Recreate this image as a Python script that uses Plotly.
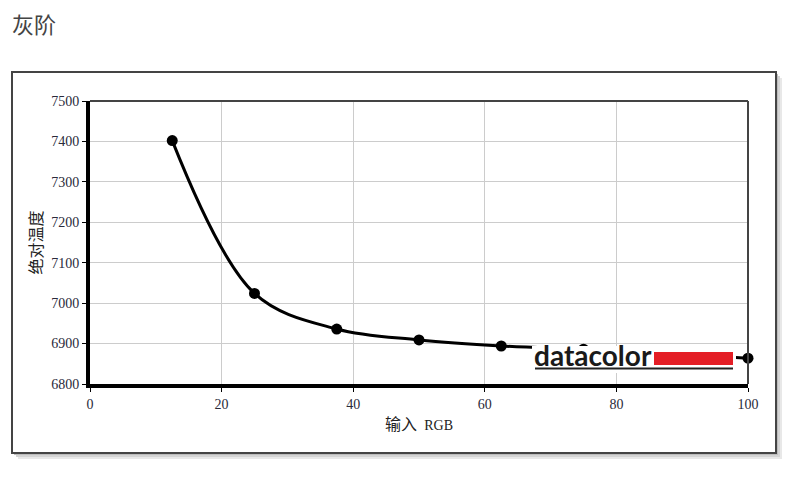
import plotly.graph_objects as go

# Data
rgb_input = [12.5, 25, 37.5, 50, 62.5, 75, 87.5, 100]
cct_values = [7402, 7024, 6936, 6909, 6894, 6886, 6876, 6864]
x_ticks = [0, 20, 40, 60, 80, 100]
y_ticks = [6800, 6900, 7000, 7100, 7200, 7300, 7400, 7500]

title_text = "灰阶"
x_title = "输入&nbsp;&nbsp;<span style='font-family:Liberation Serif;font-size:14px'>RGB</span>"
y_title = "绝对温度"

# plot area in page pixels (page has an 8px body margin)
OFF = 8
L, R, T, B = 90, 748, 101, 384
W, H = 800 - OFF, 477 - OFF

def px(x):
    return (x - L) / (R - L)

def py(y):
    return (B - y) / (B - T)

fig = go.Figure()
fig.add_trace(go.Scatter(
    x=rgb_input, y=cct_values, mode="lines+markers",
    line=dict(color="black", width=3, shape="spline", smoothing=1.0),
    marker=dict(color="black", size=11),
    cliponaxis=False, showlegend=False,
))

shapes = []
# shadow of outer box
for i, c in enumerate(["#e8e8e8", "#d4d4d4", "#bcbcbc"]):
    off = 6 - i * 2
    shapes.append(dict(type="rect", xref="paper", yref="paper",
                       x0=px(12 + off), x1=px(776 + off), y0=py(453 + off), y1=py(72 + off),
                       line=dict(width=0), fillcolor=c, layer="below"))
# outer box
shapes.append(dict(type="rect", xref="paper", yref="paper",
                   x0=px(12), x1=px(776), y0=py(453), y1=py(72),
                   line=dict(color="#444", width=2), fillcolor="white", layer="below"))
# top and right plot borders
shapes.append(dict(type="line", xref="paper", yref="paper", x0=0, x1=1, y0=1, y1=1,
                   line=dict(color="#444", width=2), layer="above"))
shapes.append(dict(type="line", xref="paper", yref="paper", x0=1, x1=1, y0=0, y1=1,
                   line=dict(color="#444", width=2), layer="above"))
# logo background
shapes.append(dict(type="rect", xref="paper", yref="paper",
                   x0=px(532), x1=px(736), y0=py(373), y1=py(346),
                   line=dict(width=0), fillcolor="white", layer="above"))
# logo red bar
shapes.append(dict(type="rect", xref="paper", yref="paper",
                   x0=px(654), x1=px(733), y0=py(365), y1=py(352),
                   line=dict(width=0), fillcolor="#e41e26", layer="above"))
# logo underline
shapes.append(dict(type="line", xref="paper", yref="paper",
                   x0=px(535), x1=px(733), y0=py(368.5), y1=py(368.5),
                   line=dict(color="#222", width=2), layer="above"))

annotations = [
    dict(text=title_text, xref="paper", yref="paper", x=px(10), y=py(23),
         xanchor="left", yanchor="middle", showarrow=False,
         font=dict(family="Noto Sans CJK SC", size=22, color="#444")),
    dict(text="<b>datacolor</b>", xref="paper", yref="paper", x=px(532), y=py(355),
         xanchor="left", yanchor="middle", showarrow=False,
         font=dict(family="Lato", size=28, color="#1a1a1a")),
]

fig.update_layout(
    width=W, height=H,
    margin=dict(l=L - OFF, r=800 - R, t=T - OFF, b=477 - B, pad=0),
    paper_bgcolor="white", plot_bgcolor="white",
    shapes=shapes, annotations=annotations,
    xaxis=dict(range=[0, 100], tickvals=x_ticks, showgrid=True, gridcolor="#cccccc", gridwidth=1,
               zeroline=False, showline=True, linecolor="black", linewidth=4,
               ticks="outside", ticklen=4, tickcolor="black", tickwidth=1,
               tickfont=dict(family="Liberation Serif", size=14, color="#2a2a3a"),
               title=dict(text=x_title, font=dict(family="Noto Sans CJK SC", size=16, color="#222"),
                          standoff=9)),
    yaxis=dict(range=[6800, 7500], tickvals=y_ticks, showgrid=True, gridcolor="#cccccc", gridwidth=1,
               zeroline=False, showline=True, linecolor="black", linewidth=4,
               ticks="outside", ticklen=4, tickcolor="black", tickwidth=1,
               tickfont=dict(family="Liberation Serif", size=14, color="#2a2a3a"),
               title=dict(text=y_title, font=dict(family="Noto Sans CJK SC", size=16, color="#222"),
                          standoff=6)),
)

fig.write_html("out.html")
